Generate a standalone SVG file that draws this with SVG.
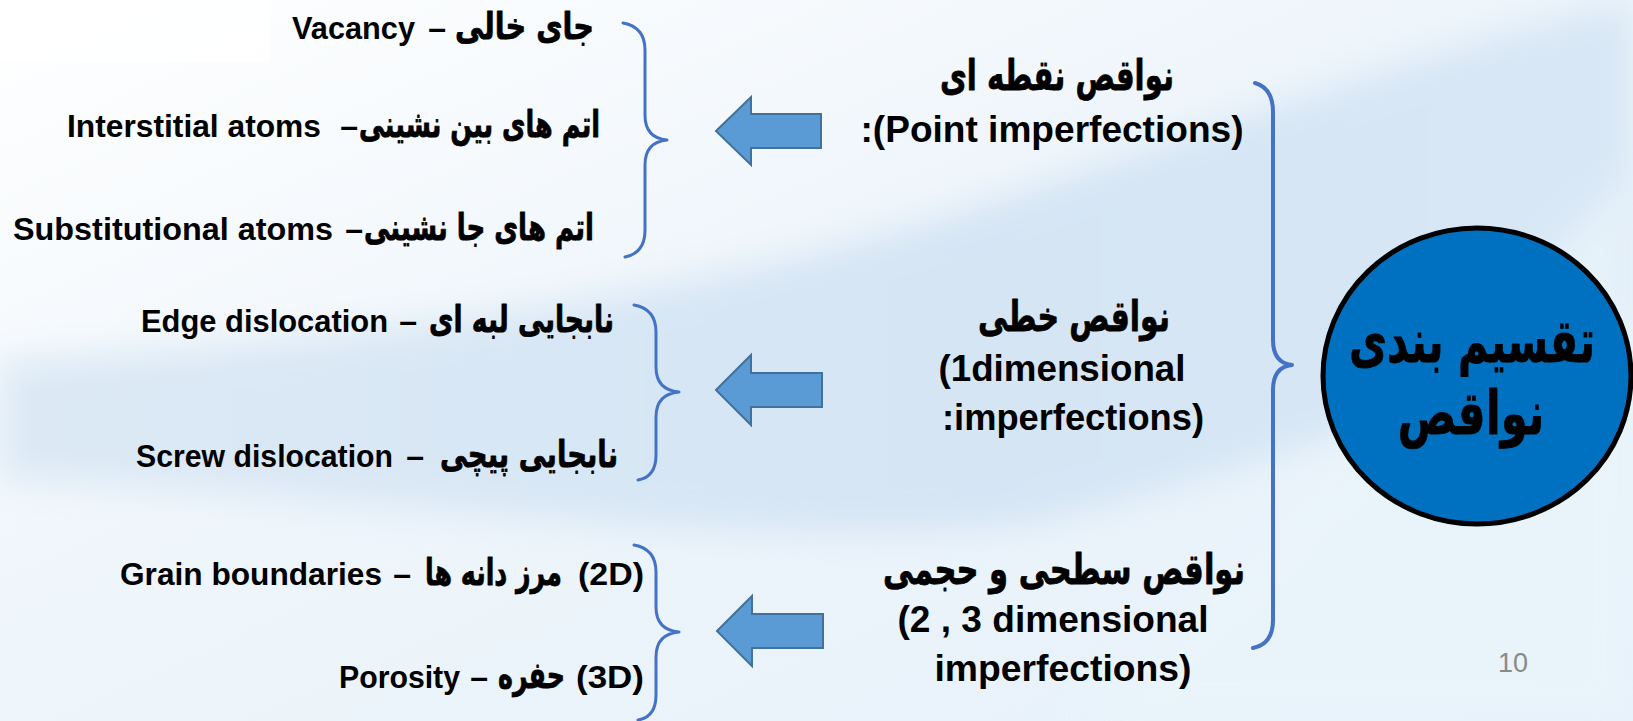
<svg xmlns="http://www.w3.org/2000/svg" width="1633" height="721" viewBox="0 0 1633 721">
  <defs>
    <linearGradient id="bg" x1="0" y1="0" x2="1" y2="1">
      <stop offset="0" stop-color="#FFFFFF"/>
      <stop offset="0.45" stop-color="#EEF5FB"/>
      <stop offset="1" stop-color="#E6F1FA"/>
    </linearGradient>
    <linearGradient id="bandg" x1="0" y1="0" x2="1" y2="0">
      <stop offset="0" stop-color="#DCE9F5"/>
      <stop offset="0.6" stop-color="#D5E5F4"/>
      <stop offset="1" stop-color="#D8E7F5"/>
    </linearGradient>
    <filter id="soft" x="-10%" y="-10%" width="120%" height="120%">
      <feGaussianBlur stdDeviation="18"/>
    </filter>
    <style>
      .t { font-family: "Liberation Sans", "DejaVu Sans", sans-serif; font-weight: bold; fill: #000; }
      .l { font-size: 32px; }
      .c { font-size: 36px; }
      .ar { font-family: "DejaVu Sans", "Liberation Sans", sans-serif; font-weight: bold; fill: #000; stroke: #000; stroke-width: 0.8; stroke-linejoin: round; }
      .al { font-size: 37px; }
      .ac { font-size: 42px; }
      .brace { fill: none; stroke: #4472C4; stroke-width: 3; stroke-linecap: round; stroke-linejoin: round; }
      .big { stroke-width: 4; }
      .arrow { fill: #5B9BD5; stroke: #41719C; stroke-width: 2; }
    </style>
  </defs>

  <g id="background">
    <rect x="0" y="0" width="1633" height="721" fill="url(#bg)"/>
    <path d="M0,360 C300,345 650,310 950,215 C1200,135 1420,50 1633,0 L1633,320 C1450,400 1250,470 1050,520 C800,560 450,500 0,480 Z" fill="url(#bandg)" filter="url(#soft)"/>
    <path d="M1080,721 C1250,560 1420,380 1633,170 L1633,721 Z" fill="#EAF4FB" opacity="0.8" filter="url(#soft)"/>
    <rect x="0" y="0" width="270" height="62" fill="#FFFFFF" opacity="0.7"/>
  </g>

  <g id="connectors">
    <path class="brace big" d="M1255,83 Q1273,88 1273,112 L1273,340 Q1273,363 1292,365 Q1273,367 1273,390 L1273,620 Q1273,644 1253,648"/>
    <path class="brace" d="M623,23 Q645,27 645,50 L645,115 Q645,138 667,140 Q645,142 645,165 L645,230 Q645,253 625,257"/>
    <path class="brace" d="M634,305 Q656,309 656,332 L656,367 Q656,390 679,392 Q656,394 656,417 L656,455 Q656,477 638,480"/>
    <path class="brace" d="M634,545 Q656,549 656,572 L656,607 Q656,630 679,632 Q656,634 656,657 L656,695 Q656,717 638,720"/>
    <polygon class="arrow" points="716,131 751,97 751,114 821,114 821,148 751,148 751,165"/>
    <polygon class="arrow" points="716,390 751,355 751,373 822,373 822,407 751,407 751,425"/>
    <polygon class="arrow" points="717,631 752,596 752,614 823,614 823,648 752,648 752,666"/>
  </g>

  <g id="root">
    <ellipse cx="1477" cy="376" rx="154" ry="148" fill="#0070C0" stroke="#000000" stroke-width="5"/>
    <text class="ar" x="1472" y="362" font-size="60" stroke-width="1.2" text-anchor="middle" textLength="246" lengthAdjust="spacingAndGlyphs">تقسیم بندی</text>
    <text class="ar" x="1471" y="434" font-size="60" stroke-width="1.2" text-anchor="middle" textLength="147" lengthAdjust="spacingAndGlyphs">نواقص</text>
  </g>

  <g id="point">
    <text class="ar ac" x="1057" y="90" text-anchor="middle" textLength="234" lengthAdjust="spacingAndGlyphs">نواقص نقطه ای</text>
    <text class="t c" x="1052" y="142" text-anchor="middle" textLength="383" lengthAdjust="spacingAndGlyphs">:(Point imperfections)</text>
  </g>

  <g id="line">
    <text class="ar ac" x="1074" y="331" text-anchor="middle" textLength="192" lengthAdjust="spacingAndGlyphs">نواقص خطی</text>
    <text class="t c" x="1062" y="381" text-anchor="middle" textLength="247" lengthAdjust="spacingAndGlyphs">(1dimensional</text>
    <text class="t c" x="1073" y="430" text-anchor="middle" textLength="262" lengthAdjust="spacingAndGlyphs">:imperfections)</text>
  </g>

  <g id="surface">
    <text class="ar ac" x="1064" y="584" text-anchor="middle" textLength="362" lengthAdjust="spacingAndGlyphs">نواقص سطحی و حجمی</text>
    <text class="t c" x="1053" y="632" text-anchor="middle" textLength="311" lengthAdjust="spacingAndGlyphs">(2 , 3 dimensional</text>
    <text class="t c" x="1063" y="681" text-anchor="middle" textLength="257" lengthAdjust="spacingAndGlyphs">imperfections)</text>
  </g>

  <g id="vacancy">
    <text class="ar al" x="594" y="39" text-anchor="end" textLength="139" lengthAdjust="spacingAndGlyphs">جای خالی</text>
    <text class="t l" x="446" y="39" text-anchor="end">–</text>
    <text class="t l" x="415" y="39" text-anchor="end" textLength="123" lengthAdjust="spacingAndGlyphs">Vacancy</text>
  </g>

  <g id="interstitial">
    <text class="ar al" x="600" y="137" text-anchor="end" textLength="241" lengthAdjust="spacingAndGlyphs">اتم های بین نشینی</text>
    <text class="t l" x="358" y="137" text-anchor="end">–</text>
    <text class="t l" x="321" y="137" text-anchor="end" textLength="254" lengthAdjust="spacingAndGlyphs">Interstitial atoms</text>
  </g>

  <g id="substitutional">
    <text class="ar al" x="594" y="240" text-anchor="end" textLength="230" lengthAdjust="spacingAndGlyphs">اتم های جا نشینی</text>
    <text class="t l" x="363" y="240" text-anchor="end">–</text>
    <text class="t l" x="333" y="240" text-anchor="end" textLength="320" lengthAdjust="spacingAndGlyphs">Substitutional atoms</text>
  </g>

  <g id="edge">
    <text class="ar al" x="614" y="332" text-anchor="end" textLength="185" lengthAdjust="spacingAndGlyphs">نابجایی لبه ای</text>
    <text class="t l" x="417" y="332" text-anchor="end">–</text>
    <text class="t l" x="388" y="332" text-anchor="end" textLength="247" lengthAdjust="spacingAndGlyphs">Edge dislocation</text>
  </g>

  <g id="screw">
    <text class="ar al" x="618" y="467" text-anchor="end" textLength="178" lengthAdjust="spacingAndGlyphs">نابجایی پیچی</text>
    <text class="t l" x="424" y="467" text-anchor="end">–</text>
    <text class="t l" x="393" y="467" text-anchor="end" textLength="257" lengthAdjust="spacingAndGlyphs">Screw dislocation</text>
  </g>

  <g id="grain">
    <text class="t l" x="644" y="585" text-anchor="end" textLength="66" lengthAdjust="spacingAndGlyphs">(2D)</text>
    <text class="ar al" x="562" y="585" text-anchor="end" textLength="137" lengthAdjust="spacingAndGlyphs">مرز دانه ها</text>
    <text class="t l" x="411" y="585" text-anchor="end">–</text>
    <text class="t l" x="382" y="585" text-anchor="end" textLength="262" lengthAdjust="spacingAndGlyphs">Grain boundaries</text>
  </g>

  <g id="porosity">
    <text class="t l" x="644" y="688" text-anchor="end" textLength="68" lengthAdjust="spacingAndGlyphs">(3D)</text>
    <text class="ar al" x="565" y="688" text-anchor="end" textLength="67" lengthAdjust="spacingAndGlyphs">حفره</text>
    <text class="t l" x="488" y="688" text-anchor="end">–</text>
    <text class="t l" x="460" y="688" text-anchor="end" textLength="121" lengthAdjust="spacingAndGlyphs">Porosity</text>
  </g>

  <g id="page-number">
    <text x="1498" y="672" font-family="Liberation Sans, sans-serif" font-size="27" fill="#898989">10</text>
  </g>
</svg>
